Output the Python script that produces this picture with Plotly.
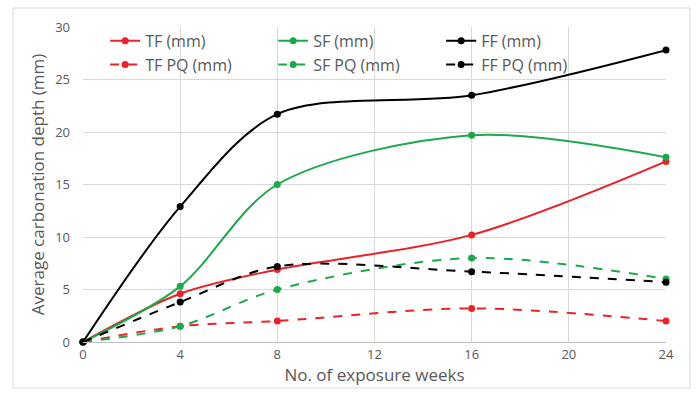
import plotly.graph_objects as go

weeks = [0, 4, 8, 16, 24]
tf = [0, 4.6, 6.9, 10.2, 17.2]
sf = [0, 5.3, 15.0, 19.7, 17.6]
ff = [0, 12.9, 21.7, 23.5, 27.8]
tf_pq = [0, 1.5, 2.0, 3.2, 2.0]
sf_pq = [0, 1.5, 5.0, 8.0, 6.0]
ff_pq = [0, 3.8, 7.2, 6.7, 5.7]

x_ticks = [0, 4, 8, 12, 16, 20, 24]
y_ticks = [0, 5, 10, 15, 20, 25, 30]

RED = "#e8232a"
GREEN = "#1ea84a"
BLACK = "#000000"

series = [
    ("TF (mm)", tf, RED, "solid"),
    ("SF (mm)", sf, GREEN, "solid"),
    ("FF (mm)", ff, BLACK, "solid"),
    ("TF PQ (mm)", tf_pq, RED, "dash"),
    ("SF PQ (mm)", sf_pq, GREEN, "dash"),
    ("FF PQ (mm)", ff_pq, BLACK, "dash"),
]

fig = go.Figure()
for name, vals, color, dash in series:
    fig.add_trace(go.Scatter(
        x=weeks, y=vals, name=name, mode="lines+markers",
        line=dict(color=color, width=2, dash=dash, shape="spline", smoothing=0.9),
        marker=dict(color=color, size=7),
        cliponaxis=False,
    ))

gray = "#595959"
fig.update_layout(
    width=696, height=397,
    margin=dict(l=83, r=30, t=27, b=55),
    paper_bgcolor="white", plot_bgcolor="white",
    font=dict(family="Open Sans, Liberation Sans, sans-serif", color=gray, size=12),
    showlegend=True,
    legend=dict(
        orientation="h", x=0.038, y=1.01, xanchor="left", yanchor="top",
        entrywidth=123, entrywidthmode="pixels",
        bgcolor="rgba(0,0,0,0)",
        font=dict(size=16, color=gray),
        tracegroupgap=0, itemwidth=30,
    ),
    xaxis=dict(
        range=[0, 24], tickvals=x_ticks, ticktext=[str(v) for v in x_ticks],
        showgrid=True, gridcolor="#d9d9d9", gridwidth=1,
        zeroline=False, showline=True, linecolor="#bfbfbf", linewidth=1,
        ticks="", tickfont=dict(size=13, color=gray),
        title=dict(text="No. of exposure weeks", font=dict(size=17, color=gray), standoff=4),
    ),
    yaxis=dict(
        range=[0, 30], tickvals=y_ticks, ticktext=[str(v) for v in y_ticks],
        showgrid=True, gridcolor="#d9d9d9", gridwidth=1,
        zeroline=False, showline=False,
        ticks="", tickfont=dict(size=13, color=gray), ticklabelstandoff=12,
        title=dict(text="Average carbonation depth (mm)", font=dict(size=17, color=gray), standoff=6),
    ),
)

# outer chart border
fig.add_shape(type="rect", xref="paper", yref="paper",
              x0=(13 - 83) / 583, x1=(690 - 83) / 583,
              y0=-(388 - 342) / 315, y1=1 + (27 - 8) / 315,
              line=dict(color="#d9d9d9", width=1), fillcolor="rgba(0,0,0,0)", layer="below")

fig.write_html("out.html", config={"displayModeBar": False},
               post_script="document.body.style.margin='0';")
